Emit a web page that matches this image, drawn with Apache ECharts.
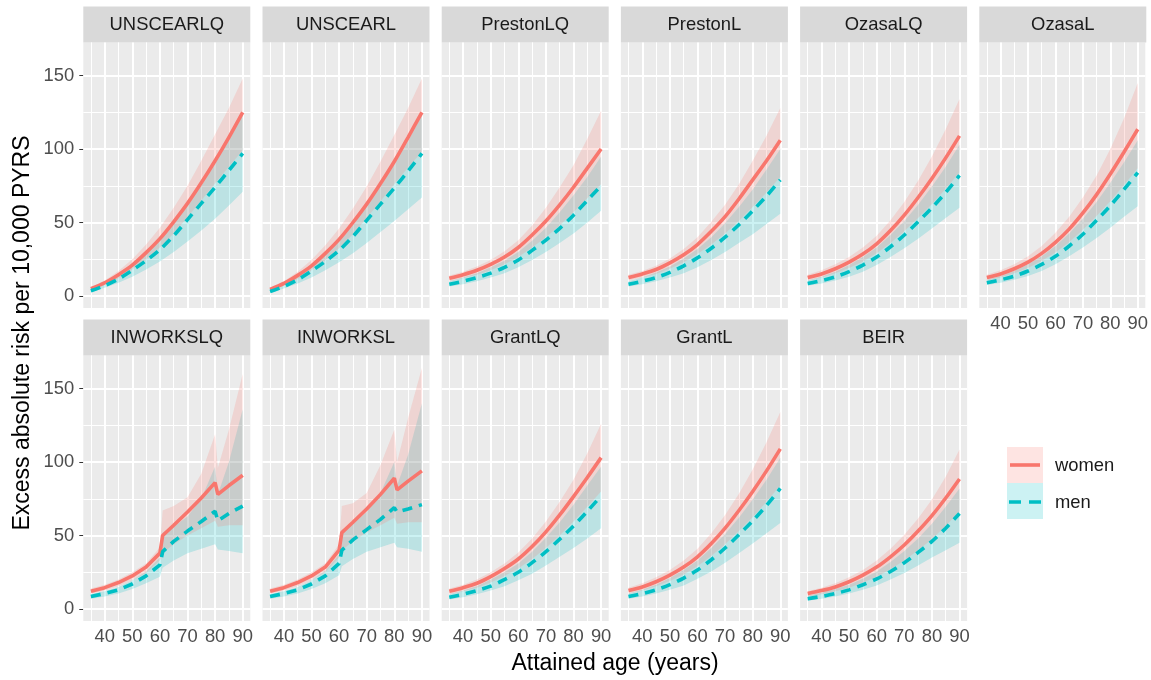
<!DOCTYPE html>
<html>
<head>
<meta charset="utf-8">
<script src="https://cdn.jsdelivr.net/npm/echarts@6/dist/echarts.min.js"></script>
<style>
  html, body { margin: 0; padding: 0; background: #fff; }
  #chart { width: 1151px; height: 680px; }
</style>
</head>
<body>
<div id="chart"></div>
<script>
// attained age grids
const ages = [35, 40, 45, 50, 55, 60, 65, 70, 75, 80, 85, 90]
const agesStep = [35, 40, 45, 50, 55, 60, 61, 65, 70, 75, 80, 81, 85, 90]

const panelNames = ['UNSCEARLQ', 'UNSCEARL', 'PrestonLQ', 'PrestonL', 'OzasaLQ', 'OzasaL',
  'INWORKSLQ', 'INWORKSL', 'GrantLQ', 'GrantL', 'BEIR']
const panelAges = [ages, ages, ages, ages, ages, ages, agesStep, agesStep, ages, ages, ages]

const xTicks = [40, 50, 60, 70, 80, 90]
const xMinor = [35, 45, 55, 65, 75, 85]
const yTicks = [0, 50, 100, 150]
const yMinor = [25, 75, 125]

// women: central estimate, lower and upper bound (one row per panel)
const womenMid = [
  [5, 9, 14.5, 21, 29.5, 39, 50.5, 63, 77, 92, 108, 125],
  [4.5, 8.5, 14, 20.5, 29, 38.5, 50, 62.5, 76.5, 91.5, 108, 125],
  [12, 14.5, 17.5, 21.5, 26.5, 33, 41.5, 51, 62, 74, 87, 100],
  [12.5, 15, 18, 22.5, 28, 35, 44, 54, 66, 79, 92, 106],
  [12.5, 15, 18.5, 23, 28.5, 35.5, 44.5, 55, 67, 80, 94, 109],
  [12.5, 15, 18.5, 23, 29, 36.5, 45.5, 56.5, 69, 83, 98, 113.5],
  [12, 14.5, 18, 22.5, 28.5, 38, 50, 57, 66, 75.5, 86, 78, 84, 91],
  [12, 14.5, 18, 22.5, 28.5, 40, 52, 59, 68, 78, 89, 81, 87, 94],
  [12, 14.5, 17.5, 22, 27.5, 34, 42.5, 52.5, 64, 76.5, 89.5, 103],
  [12.5, 15, 18.5, 23, 28.5, 35.5, 44.5, 55, 67, 80, 94, 109],
  [10.5, 12.5, 15, 18.5, 23, 28.5, 35.5, 43.5, 53, 63.5, 75.5, 88.5]
]
const womenLo = [
  [4, 7.5, 12, 18, 25, 33, 42.5, 53.5, 65, 76.5, 88, 99],
  [3.5, 7, 11.5, 17.5, 24.5, 32.5, 42, 53, 64.5, 76, 87.5, 98],
  [10, 12, 14.5, 17.5, 21.5, 26.5, 33, 40, 48, 57, 66.5, 76],
  [10.5, 12.5, 15, 18.5, 23, 28.5, 35, 42.5, 51, 60.5, 70.5, 81],
  [10.5, 12.5, 15.5, 19, 23.5, 29, 36, 44, 53, 62.5, 73, 84],
  [10.5, 12.5, 15.5, 19, 24, 29.5, 36.5, 45, 54.5, 64.5, 75.5, 87],
  [10.5, 12.5, 15.5, 19.5, 24.5, 33, 38, 44, 50, 55, 60, 56, 57, 57],
  [10.5, 12.5, 15.5, 19.5, 25, 35, 40, 46, 52, 57, 62, 58, 59, 59],
  [10, 12, 14.5, 18, 22.5, 27.5, 34, 41.5, 50, 59.5, 69.5, 80],
  [10.5, 12.5, 15.5, 19, 23.5, 29, 36, 44, 53, 62.5, 73, 84],
  [8.5, 10, 12, 14.5, 18, 22, 27, 33, 40, 47.5, 56.5, 66.5]
]
const womenHi = [
  [6, 10.5, 17, 25, 35, 46.5, 60, 75, 92, 110, 128, 148],
  [5.5, 10, 16.5, 24.5, 34.5, 46, 59.5, 74.5, 91.5, 109.5, 128, 148],
  [14, 16.5, 20, 24.5, 30.5, 38, 48, 60, 74, 89, 107, 126],
  [14.5, 17, 20.5, 25.5, 32, 40, 50.5, 62, 76, 92, 109, 128],
  [14.5, 17.5, 21.5, 26.5, 33, 41, 51.5, 64, 78.5, 95, 113.5, 134],
  [14.5, 17.5, 21.5, 27, 34, 43, 54, 67, 82, 100, 121, 145],
  [14, 16.5, 20, 25, 31, 42, 67, 70, 76, 92, 119, 96, 122, 160],
  [14, 16.5, 20, 25, 31, 44, 70, 72, 79, 98, 122, 100, 130, 164],
  [14, 16.5, 20, 25, 31, 38.5, 48, 59.5, 73, 88, 106, 126],
  [14.5, 17.5, 21.5, 26.5, 33, 41, 51.5, 64, 78.5, 95, 113.5, 134],
  [12, 14.5, 17.5, 21.5, 26.5, 33, 41, 50.5, 61.5, 74.5, 90, 108.5]
]

// men: central estimate, lower and upper bound
const menMid = [
  [3.5, 7, 11.5, 17.5, 24, 31.5, 41, 52, 63, 74, 85.5, 97],
  [3, 6.5, 11, 17, 23.5, 31, 40.5, 51.5, 62.5, 73.5, 85, 97],
  [8, 10, 12.5, 15.5, 19.5, 24.5, 31, 38, 46, 55, 65, 75],
  [8, 10, 12.5, 16, 20.5, 26, 32.5, 40, 48.5, 58, 68, 79],
  [8.5, 10.5, 13, 16.5, 21, 26.5, 33.5, 41.5, 50.5, 60, 70.5, 82],
  [9, 11, 13.5, 17, 21.5, 27, 34, 42, 51.5, 61.5, 72.5, 84],
  [8.5, 10.5, 13, 17, 22.5, 30, 39, 46, 53, 59.5, 66.5, 60, 65, 70],
  [8.5, 10.5, 13, 17, 22.5, 31, 40, 47, 54, 61, 69, 66, 68, 71],
  [8, 10, 12.5, 15.5, 20, 25, 31.5, 39, 47.5, 56.5, 66.5, 77],
  [8.5, 10.5, 13, 16.5, 21, 26.5, 33.5, 41.5, 50.5, 60, 70.5, 82],
  [7, 8.5, 10.5, 13, 16.5, 20.5, 25.5, 31.5, 38.5, 46, 55, 65]
]
const menLo = [
  [2.5, 5.5, 9, 13, 18, 23.5, 30, 37, 44.5, 52.5, 61.5, 71],
  [2, 5, 8.5, 12.5, 17.5, 23, 29, 36, 43.5, 51, 59, 67],
  [6.5, 8, 10, 12.5, 15.5, 19.5, 24.5, 30, 36, 42.5, 50, 58],
  [6.5, 8, 10, 12.5, 15.5, 19.5, 24.5, 30, 36, 42, 49, 56],
  [7, 8.5, 10.5, 13, 16.5, 21, 26.5, 32.5, 39, 46, 53, 60],
  [7.5, 9, 11, 13.5, 17, 21.5, 27, 33, 39.5, 46.5, 54, 61],
  [7, 8.5, 10.5, 13.5, 17.5, 22, 28, 33, 38, 41, 44, 40.5, 39.5, 38],
  [7, 8.5, 10.5, 13.5, 17.5, 23, 29, 34, 39, 42, 45, 42, 41, 39],
  [6.5, 8, 10, 12.5, 15.5, 19.5, 24, 29.5, 35.5, 41.5, 48, 55],
  [7, 8.5, 10.5, 13, 16, 20.5, 25.5, 31.5, 38, 44.5, 51.5, 58.5],
  [5.5, 7, 8.5, 10.5, 13, 16, 20, 24.5, 29.5, 35, 40, 45]
]
const menHi = [
  [4.5, 8.5, 14, 20.5, 28.5, 38, 49, 61.5, 75, 90, 106, 123],
  [4, 8, 13.5, 20, 28, 37.5, 48.5, 61, 74.5, 89.5, 105.5, 123],
  [10, 12.5, 15.5, 19.5, 24, 30, 37.5, 46.5, 57, 68.5, 81, 95],
  [10, 12.5, 16, 20, 25.5, 32, 40, 49.5, 60.5, 72.5, 86, 100],
  [10.5, 13, 16.5, 21, 26.5, 33, 41.5, 51, 62, 74.5, 88, 103],
  [11, 13.5, 17, 21.5, 27, 34, 42.5, 52.5, 64, 77, 91, 106],
  [10, 12, 15, 19.5, 25.5, 35, 52, 56, 63, 75, 97, 78, 100, 136],
  [10, 12, 15, 19.5, 26, 37, 54, 58, 66, 79, 100, 84, 105, 140],
  [10, 12.5, 15.5, 20, 25, 31, 39, 48.5, 59, 71, 84, 97],
  [10.5, 13, 16.5, 21, 26.5, 33, 41.5, 51, 62, 74.5, 88, 103],
  [9, 11, 13.5, 16.5, 20.5, 25.5, 32, 39.5, 48, 58, 69.5, 82]
]

const WOMEN = '#F8766D'
const MEN = '#00BFC4'
const FONT = '"Liberation Sans", Arial, sans-serif'

// panel geometry (ggplot facet_wrap look)
const panelLeft0 = 83.3
const panelStep = 179.2
const panelW = 167
const panelH = 265.6
const rowTop = [42.4, 355.4]
const stripH = 36

const chart = echarts.init(document.getElementById('chart'))

// ribbon as polygon through the axis scales
const ribbonRenderer = (xs, lo, hi, color) => (params, api) => {
  if (params.dataIndex !== 0) return
  const pts = []
  xs.forEach((a, i) => pts.push(api.coord([a, hi[i]])))
  for (let i = xs.length - 1; i >= 0; i--) pts.push(api.coord([xs[i], lo[i]]))
  return { type: 'polygon', shape: { points: pts }, style: { fill: color }, silent: true }
}

const gridLines = () => {
  const d = []
  yMinor.forEach(v => d.push({ yAxis: v, lineStyle: { color: '#fff', width: 1, type: 'solid' } }))
  xMinor.forEach(v => d.push({ xAxis: v, lineStyle: { color: '#fff', width: 1, type: 'solid' } }))
  yTicks.forEach(v => d.push({ yAxis: v, lineStyle: { color: '#fff', width: 2, type: 'solid' } }))
  xTicks.forEach(v => d.push({ xAxis: v, lineStyle: { color: '#fff', width: 2, type: 'solid' } }))
  return d
}

const grids = [], xAxes = [], yAxes = [], series = [], graphics = []

panelNames.forEach((name, i) => {
  const row = i < 6 ? 0 : 1
  const col = i < 6 ? i : i - 6
  const left = panelLeft0 + col * panelStep
  const top = rowTop[row]
  const showX = row === 1 || i === 5
  const showY = col === 0
  const xs = panelAges[i]
  const smooth = xs === ages ? 0.3 : false

  grids.push({ left, top, width: panelW, height: panelH, show: true, backgroundColor: '#EBEBEB', borderWidth: 0 })
  xAxes.push({
    gridIndex: i, type: 'value', min: 32.25, max: 92.75,
    axisLine: { show: false }, splitLine: { show: false },
    axisTick: { show: showX, customValues: xTicks, length: 4, lineStyle: { color: '#333', width: 1 } },
    axisLabel: { show: showX, customValues: xTicks, margin: 7, color: '#4D4D4D', fontSize: 18.4, fontFamily: FONT }
  })
  yAxes.push({
    gridIndex: i, type: 'value', min: -8.2, max: 172.6,
    axisLine: { show: false }, splitLine: { show: false },
    axisTick: { show: showY, customValues: yTicks, length: 4, lineStyle: { color: '#333', width: 1 } },
    axisLabel: { show: showY, customValues: yTicks, margin: 9, color: '#4D4D4D', fontSize: 18.4, fontFamily: FONT }
  })

  // men ribbon first, women ribbon over it -> grey overlap
  series.push({
    type: 'custom', xAxisIndex: i, yAxisIndex: i, z: 2, silent: true,
    renderItem: ribbonRenderer(xs, menLo[i], menHi[i], 'rgba(0,191,196,0.2)'),
    data: xs.map((a, k) => [a, menLo[i][k], menHi[i][k]])
  })
  series.push({
    type: 'custom', xAxisIndex: i, yAxisIndex: i, z: 3, silent: true,
    renderItem: ribbonRenderer(xs, womenLo[i], womenHi[i], 'rgba(248,118,109,0.2)'),
    data: xs.map((a, k) => [a, womenLo[i][k], womenHi[i][k]])
  })
  series.push({
    type: 'line', xAxisIndex: i, yAxisIndex: i, z: 4, silent: true,
    showSymbol: false, smooth,
    lineStyle: { color: WOMEN, width: 3.6, cap: 'butt' },
    data: xs.map((a, k) => [a, womenMid[i][k]]),
    markLine: {
      silent: true, z: 1, symbol: ['none', 'none'], animation: false,
      label: { show: false }, emphasis: { disabled: true },
      data: gridLines()
    }
  })
  series.push({
    type: 'line', xAxisIndex: i, yAxisIndex: i, z: 5, silent: true,
    showSymbol: false, smooth,
    lineStyle: { color: MEN, width: 3.6, type: [10, 7], cap: 'butt' },
    data: xs.map((a, k) => [a, menMid[i][k]])
  })

  // facet strip
  graphics.push({ type: 'rect', shape: { x: left, y: top - stripH, width: panelW, height: stripH }, style: { fill: '#D9D9D9' }, silent: true })
  graphics.push({
    type: 'text', x: left + panelW / 2, y: top - stripH / 2 + 1, silent: true,
    style: { text: name, fill: '#1A1A1A', fontSize: 18.4, fontFamily: FONT, align: 'center', verticalAlign: 'middle' }
  })
})

// axis titles
graphics.push({
  type: 'text', x: 615, y: 664, silent: true,
  style: { text: 'Attained age (years)', fill: '#000', fontSize: 23, fontFamily: FONT, align: 'center', verticalAlign: 'middle' }
})
graphics.push({
  type: 'text', x: 23, y: 333, rotation: Math.PI / 2, silent: true,
  style: { text: 'Excess absolute risk per 10,000 PYRS', fill: '#000', fontSize: 23, fontFamily: FONT, align: 'center', verticalAlign: 'middle' }
})

// legend
graphics.push({ type: 'rect', shape: { x: 1007, y: 447, width: 36, height: 36 }, style: { fill: 'rgba(248,118,109,0.2)' }, silent: true })
graphics.push({ type: 'line', shape: { x1: 1010, y1: 465, x2: 1040, y2: 465 }, style: { stroke: WOMEN, lineWidth: 3.6 }, silent: true })
graphics.push({ type: 'rect', shape: { x: 1007, y: 483, width: 36, height: 36 }, style: { fill: 'rgba(0,191,196,0.2)' }, silent: true })
graphics.push({ type: 'line', shape: { x1: 1009, y1: 502, x2: 1041, y2: 502 }, style: { stroke: MEN, lineWidth: 3.6, lineDash: [12, 8] }, silent: true })
graphics.push({
  type: 'text', x: 1055, y: 466, silent: true,
  style: { text: 'women', fill: '#1A1A1A', fontSize: 18.4, fontFamily: FONT, align: 'left', verticalAlign: 'middle' }
})
graphics.push({
  type: 'text', x: 1055, y: 503, silent: true,
  style: { text: 'men', fill: '#1A1A1A', fontSize: 18.4, fontFamily: FONT, align: 'left', verticalAlign: 'middle' }
})

chart.setOption({
  animation: false,
  grid: grids,
  xAxis: xAxes,
  yAxis: yAxes,
  series,
  graphic: graphics
})
</script>
</body>
</html>
